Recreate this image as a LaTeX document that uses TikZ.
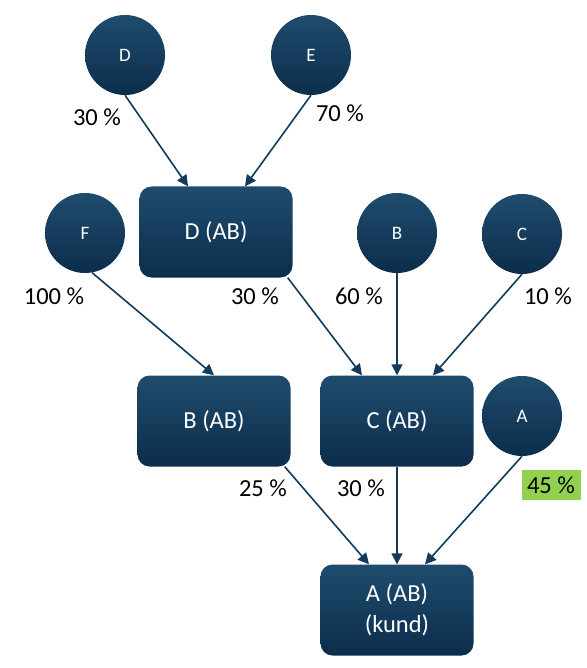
\documentclass[tikz,border=0pt]{standalone}
\usepackage{fontspec}
\setmainfont{Carlito}
\usetikzlibrary{arrows.meta}
\definecolor{navytop}{HTML}{1F4C6E}
\definecolor{navybot}{HTML}{0C2D4B}
\definecolor{navyline}{HTML}{123A5A}
\definecolor{sharegreen}{HTML}{92D050}
\begin{document}
\begin{tikzpicture}[x=1pt,y=-1pt]
\tikzset{
  owner/.style={circle,minimum size=80pt,inner sep=0pt,
    top color=navytop,bottom color=navybot,text=white,
    font=\fontsize{19}{22}\selectfont},
  company/.style={rectangle,rounded corners=12pt,minimum width=153pt,
    minimum height=91pt,inner sep=0pt,align=center,
    top color=navytop,bottom color=navybot,text=white,
    font=\fontsize{24.5}{31}\selectfont},
  share/.style={inner sep=1.5pt,text=black,font=\fontsize{24.5}{28}\selectfont},
  link/.style={-{Triangle[length=11pt,width=11pt]},line width=1.6pt,draw=navyline}
}
\useasboundingbox (0,0) rectangle (586,668);

\node[owner] (oD) at (125,55) {D};
\node[owner] (oE) at (311,55) {E};
\node[owner] (oF) at (85,233) {F};
\node[owner] (oB) at (397,233) {B};
\node[owner] (oC) at (522,234) {C};
\node[owner] (oA) at (522,416) {A};

\node[company] (cD) at (216,232) {D (AB)};
\node[company] (cB) at (214,421) {B (AB)};
\node[company] (cC) at (397,421) {C (AB)};
\node[company] (cA) at (397,610) {A (AB)\\(kund)};

\draw[link] (oD.south) -- ([xshift=-28pt]cD.north);
\draw[link] (oE.south) -- ([xshift=29pt]cD.north);
\draw[link] (oF.-80) -- (cB.north);
\draw[link] ([xshift=-5pt]cD.south east) -- ([xshift=-35pt]cC.north);
\draw[link] (oB.south) -- (cC.north);
\draw[link] (oC.south) -- ([xshift=36pt]cC.north);
\draw[link] ([xshift=-6pt]cB.south east) -- ([xshift=-28pt]cA.north);
\draw[link] (cC.south) -- (cA.north);
\draw[link] (oA.south) -- ([xshift=28pt]cA.north);

\node[share] (sDD) at (97,117) {30 \%};
\node[share] (sED) at (340,113) {70 \%};
\node[share] (sFB) at (54,296) {100 \%};
\node[share] (sDC) at (255,296) {30 \%};
\node[share] (sBC) at (359,296) {60 \%};
\node[share] (sCC) at (548,296) {10 \%};
\node[share] (sBA) at (263,488) {25 \%};
\node[share] (sCA) at (361,488) {30 \%};
\node[share,fill=sharegreen,minimum width=59pt,minimum height=30pt,inner sep=0pt]
  (sAA) at (551,485) {45 \%};
\end{tikzpicture}
\end{document}
